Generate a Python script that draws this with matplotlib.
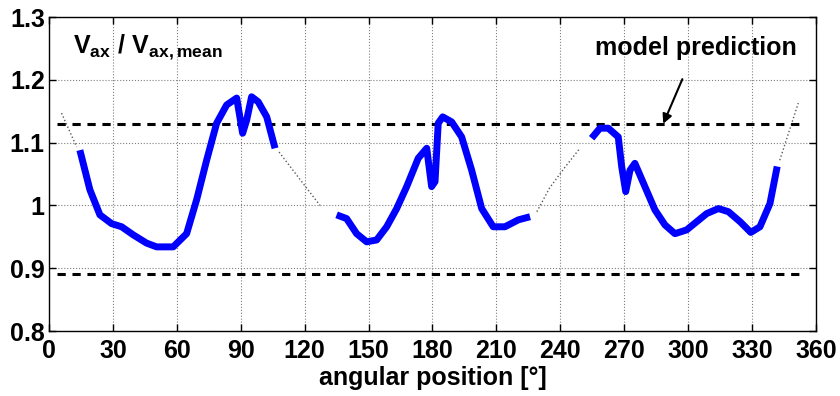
import matplotlib
matplotlib.use("Agg")
import matplotlib.pyplot as plt
import numpy as np

plt.rcParams['font.family'] = ['Liberation Sans', 'DejaVu Sans']
plt.rcParams['font.weight'] = 'bold'
plt.rcParams['mathtext.fontset'] = 'custom'
plt.rcParams['mathtext.rm'] = 'Liberation Sans:bold'
plt.rcParams['mathtext.bf'] = 'Liberation Sans:bold'
plt.rcParams['mathtext.it'] = 'Liberation Sans:bold'

FS = 18

# measured velocity ratio, three separate traverses
seg1_x = [14.5, 19.2, 23.9, 29.4, 34.1, 39.6, 45.8, 50.5, 58.3, 64.6, 69.3, 74.0,
          78.7, 83.4, 88.1, 90.9, 92.8, 95.1, 98.2, 102.2, 106.1]
seg1_y = [1.088, 1.025, 0.985, 0.971, 0.966, 0.953, 0.940, 0.934, 0.934, 0.955, 1.009, 1.072,
          1.131, 1.160, 1.171, 1.115, 1.136, 1.173, 1.165, 1.141, 1.091]

seg2_x = [135.0, 139.7, 144.4, 149.1, 153.8, 158.5, 163.2, 167.9, 173.3, 177.3, 179.6, 181.2,
          182.7, 184.8, 189.0, 193.7, 198.4, 203.1, 208.5, 214.0, 220.3, 225.8]
seg2_y = [0.985, 0.979, 0.955, 0.942, 0.945, 0.966, 0.995, 1.030, 1.075, 1.091, 1.030, 1.038,
          1.131, 1.141, 1.133, 1.109, 1.056, 0.995, 0.966, 0.966, 0.977, 0.982]

seg3_x = [254.7, 258.6, 262.5, 267.2, 268.8, 270.7, 272.7, 275.0, 279.7, 284.4, 289.1, 293.8,
          299.3, 304.0, 308.7, 314.2, 318.9, 324.4, 329.4, 333.7, 338.4, 341.8]
seg3_y = [1.107, 1.123, 1.123, 1.109, 1.062, 1.022, 1.056, 1.067, 1.030, 0.993, 0.969, 0.955,
          0.961, 0.974, 0.987, 0.995, 0.990, 0.974, 0.957, 0.966, 1.003, 1.062]

# interpolated gaps between the traverses
gap_x = [[5.9, 13.0], [108.0, 117.0, 127.2], [229.0, 235.0, 242.0, 249.2], [343.0, 351.7]]
gap_y = [[1.147, 1.093], [1.085, 1.045, 1.000], [0.990, 1.028, 1.060, 1.091], [1.072, 1.163]]

model_upper = 1.13
model_lower = 0.89
model_x = [4.0, 355.0]

fig = plt.figure(figsize=(8.4, 3.96), dpi=100)
ax = fig.add_axes([0.0583, 0.1641, 0.9131, 0.7929])

for gx, gy in zip(gap_x, gap_y):
    ax.plot(gx, gy, linestyle=':', color='0.35', linewidth=1.0)

ax.plot(model_x, [model_upper] * 2, color='black', linewidth=2.2, dashes=(2.7, 2.2))
ax.plot(model_x, [model_lower] * 2, color='black', linewidth=2.2, dashes=(2.7, 2.2))

for sx, sy in [(seg1_x, seg1_y), (seg2_x, seg2_y), (seg3_x, seg3_y)]:
    ax.plot(sx, sy, color='#0000ff', linewidth=5, solid_joinstyle='round',
            solid_capstyle='butt')

ax.set_xlim(0, 360)
ax.set_ylim(0.8, 1.3)
ax.set_xticks(np.arange(0, 361, 30))
ax.set_yticks([0.8, 0.9, 1.0, 1.1, 1.2, 1.3])
ax.set_yticklabels(['0.8', '0.9', '1', '1.1', '1.2', '1.3'])
ax.tick_params(direction='in', length=5, width=1, top=True, right=True,
               labelsize=FS, pad=3)
ax.tick_params(axis='x', pad=6)
for lab in ax.get_xticklabels() + ax.get_yticklabels():
    lab.set_fontweight('bold')
ax.grid(True, linestyle=':', color='0.5', linewidth=0.8)
for sp in ax.spines.values():
    sp.set_linewidth(1.0)

ax.set_xlabel('angular position [°]', fontsize=FS, fontweight='bold', labelpad=2)

ax.text(11.5, 1.252, r'$\mathrm{V_{ax}\ /\ V_{ax,mean}}$', fontsize=FS, va='center')

ax.annotate('model prediction', xy=(288.3, model_upper), xytext=(303.6, 1.251),
            ha='center', va='center', fontsize=FS, fontweight='bold',
            arrowprops=dict(arrowstyle='-|>', color='black', lw=1.5,
                            shrinkA=13, shrinkB=0, mutation_scale=14))

fig.savefig('out.png', dpi=100)
